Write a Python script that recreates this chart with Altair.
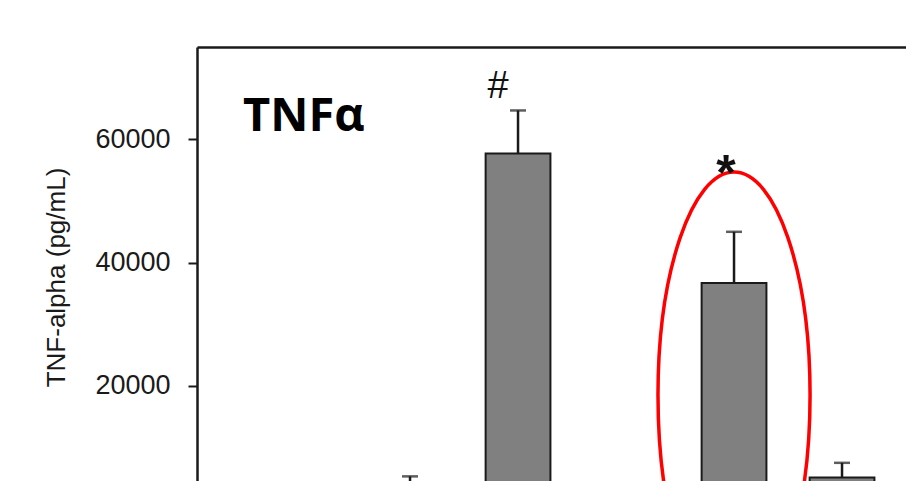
import altair as alt
import pandas as pd

# ---- data ----
groups = ["G1", "G2", "G3", "G4", "G5", "G6"]
means = [1200, 4000, 57700, 2500, 36700, 5100]
errors = [400, 1300, 7000, 900, 8300, 2400]

mark_labels = ["#", "*"]
mark_groups = ["G3", "G5"]
mark_y = [68500, 54300]

circle_group = ["G5"]
circle_y = [18500]

y_ticks = [20000, 40000, 60000]

bars_df = pd.DataFrame({"group": groups, "mean": means, "err": errors})
bars_df["top"] = bars_df["mean"] + bars_df["err"]
ann_df = pd.DataFrame({"label": mark_labels, "group": mark_groups, "y": mark_y})
circ_df = pd.DataFrame({"group": circle_group, "y": circle_y})

x_scale = alt.Scale(paddingInner=0.4, paddingOuter=0.4824, align=0.697)
x_enc = alt.X("group:N", sort=groups, scale=x_scale,
              axis=alt.Axis(orient="top", labels=False, ticks=False, title=None,
                            domainColor="#1a1a1a", domainWidth=2.5, grid=False))
x_plain = alt.X("group:N", sort=groups, scale=x_scale)
y_scale = alt.Scale(domain=[4550, 75000], nice=False, zero=False)

base = alt.Chart(bars_df)

bars = base.mark_bar(fill="#808080", stroke="#1a1a1a", strokeWidth=2, clip=True).encode(
    x=x_enc,
    y=alt.Y("mean:Q", scale=y_scale,
            axis=alt.Axis(values=y_ticks, format="d", title="TNF-alpha (pg/mL)",
                          grid=False, domainColor="#1a1a1a", domainWidth=2.5,
                          tickColor="#1a1a1a", tickWidth=2, tickSize=9,
                          labelFont="Liberation Sans", labelFontSize=27,
                          labelColor="#1a1a1a", labelPadding=18,
                          titleFont="Liberation Sans", titleFontSize=26,
                          titleFontWeight="normal", titleColor="#1a1a1a",
                          titlePadding=25, titleY=230)),
    y2=alt.datum(0),
)

stems = base.mark_rule(color="#1a1a1a", strokeWidth=2.5, clip=True).encode(
    x=x_plain, y=alt.Y("mean:Q", scale=y_scale), y2="top:Q"
)

caps = base.mark_tick(color="#1a1a1a", thickness=2.5, size=16, orient="horizontal",
                      clip=True).encode(
    x=x_plain, y=alt.Y("top:Q", scale=y_scale)
)

ann_hash = alt.Chart(ann_df[ann_df.label == "#"]).mark_text(
    font="Liberation Sans", color="#111111", baseline="middle", fontSize=38, dx=-20
).encode(x=x_plain, y=alt.Y("y:Q", scale=y_scale), text="label:N")

ann_star = alt.Chart(ann_df[ann_df.label == "*"]).mark_text(
    font="Liberation Sans", fontWeight="bold", color="#111111", baseline="middle",
    fontSize=50, dx=-8
).encode(x=x_plain, y=alt.Y("y:Q", scale=y_scale), text="label:N")

ellipse = alt.Chart(circ_df).mark_point(
    shape="M0,-1 A0.341,1 0 1,1 0,1 A0.341,1 0 1,1 0,-1 Z",
    filled=False, stroke="#ff0000", strokeWidth=3.5, opacity=1,
).encode(x=x_plain, y=alt.Y("y:Q", scale=y_scale), size=alt.value(198916))

title = alt.Chart(pd.DataFrame({"t": ["TNFα"]})).mark_text(
    font="Open Sans", fontWeight="bold", fontSize=47, align="left",
    baseline="alphabetic", color="#000000"
).encode(x=alt.value(46), y=alt.value(84), text="t:N")

chart = alt.layer(bars, stems, caps, ann_hash, ellipse, ann_star, title).properties(
    width=709, height=434,
    padding={"left": 189, "top": 39, "right": 0, "bottom": 0},
    autosize=alt.AutoSizeParams(type="none"),
).configure_view(stroke=None).configure(background="white")

chart.save("out.html", embed_options={"renderer": "svg", "actions": False})
